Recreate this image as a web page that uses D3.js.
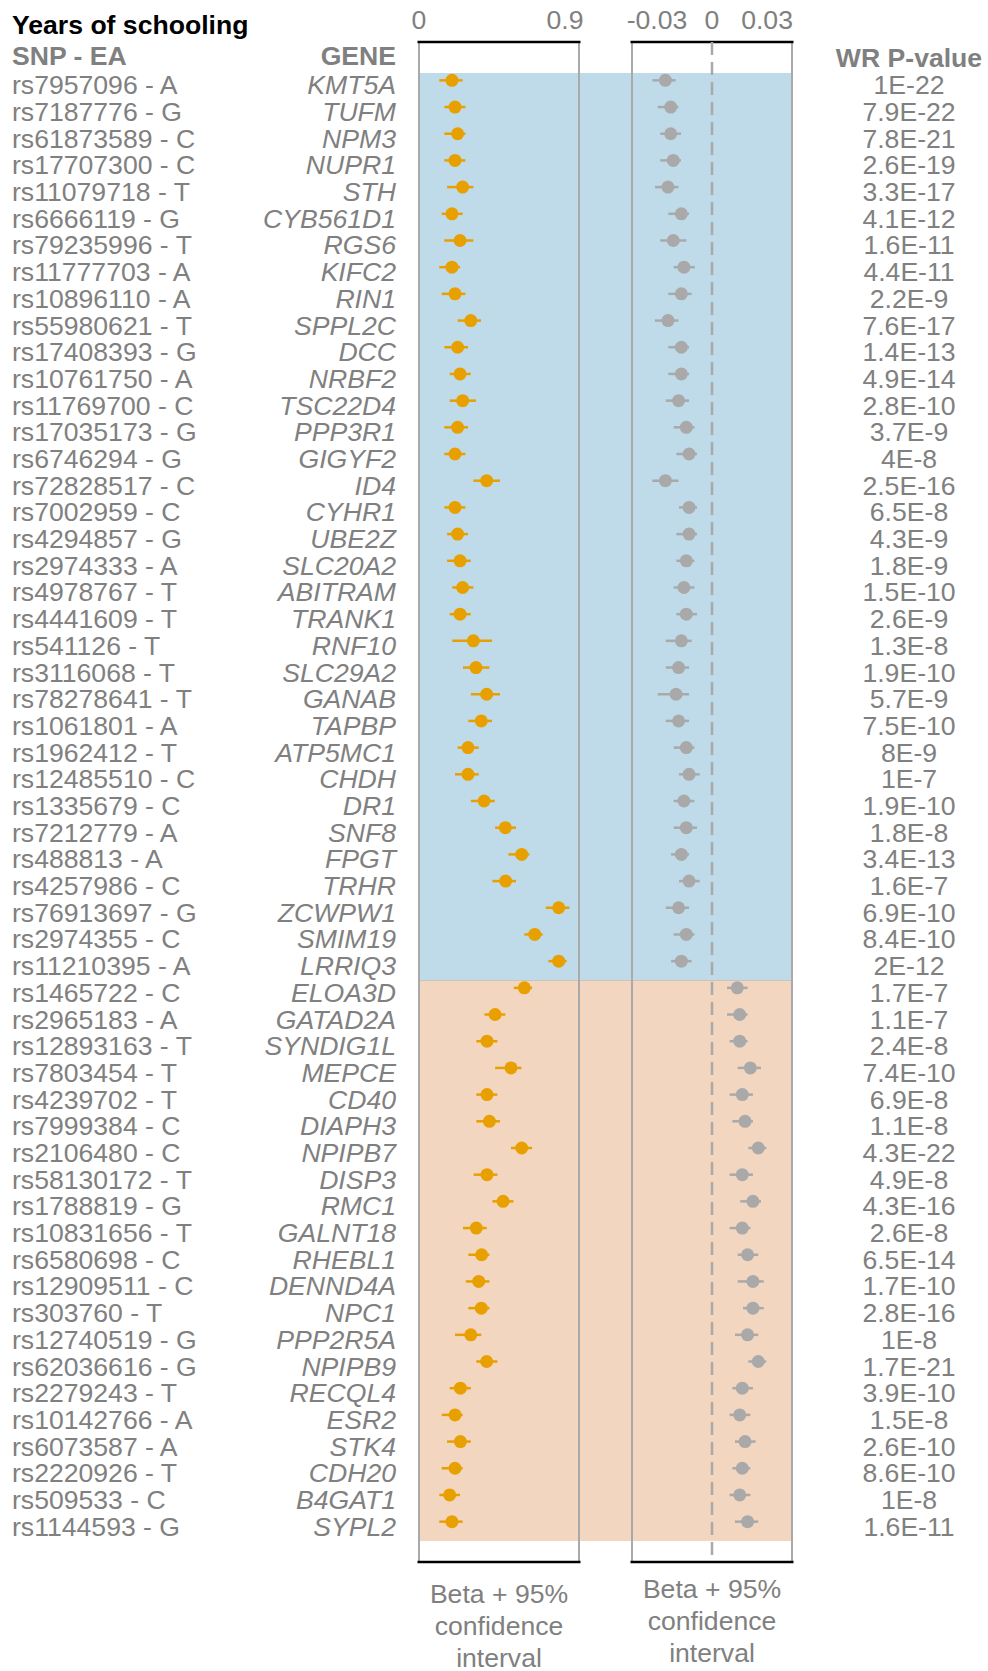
<!DOCTYPE html>
<html>
<head>
<meta charset="utf-8">
<script src="https://cdn.jsdelivr.net/npm/d3@7"></script>
<style>
  body { margin: 0; background: #fff; }
  text { font-family: "Liberation Sans", Arial, sans-serif; }
</style>
</head>
<body>
<div id="chart"></div>
<script>
// rows, top to bottom
let snps = ["rs7957096 - A","rs7187776 - G","rs61873589 - C","rs17707300 - C","rs11079718 - T","rs6666119 - G","rs79235996 - T","rs11777703 - A","rs10896110 - A","rs55980621 - T","rs17408393 - G","rs10761750 - A","rs11769700 - C","rs17035173 - G","rs6746294 - G","rs72828517 - C","rs7002959 - C","rs4294857 - G","rs2974333 - A","rs4978767 - T","rs4441609 - T","rs541126 - T","rs3116068 - T","rs78278641 - T","rs1061801 - A","rs1962412 - T","rs12485510 - C","rs1335679 - C","rs7212779 - A","rs488813 - A","rs4257986 - C","rs76913697 - G","rs2974355 - C","rs11210395 - A","rs1465722 - C","rs2965183 - A","rs12893163 - T","rs7803454 - T","rs4239702 - T","rs7999384 - C","rs2106480 - C","rs58130172 - T","rs1788819 - G","rs10831656 - T","rs6580698 - C","rs12909511 - C","rs303760 - T","rs12740519 - G","rs62036616 - G","rs2279243 - T","rs10142766 - A","rs6073587 - A","rs2220926 - T","rs509533 - C","rs1144593 - G"];
let genes = ["KMT5A","TUFM","NPM3","NUPR1","STH","CYB561D1","RGS6","KIFC2","RIN1","SPPL2C","DCC","NRBF2","TSC22D4","PPP3R1","GIGYF2","ID4","CYHR1","UBE2Z","SLC20A2","ABITRAM","TRANK1","RNF10","SLC29A2","GANAB","TAPBP","ATP5MC1","CHDH","DR1","SNF8","FPGT","TRHR","ZCWPW1","SMIM19","LRRIQ3","ELOA3D","GATAD2A","SYNDIG1L","MEPCE","CD40","DIAPH3","NPIPB7","DISP3","RMC1","GALNT18","RHEBL1","DENND4A","NPC1","PPP2R5A","NPIPB9","RECQL4","ESR2","STK4","CDH20","B4GAT1","SYPL2"];
let pvalues = ["1E-22","7.9E-22","7.8E-21","2.6E-19","3.3E-17","4.1E-12","1.6E-11","4.4E-11","2.2E-9","7.6E-17","1.4E-13","4.9E-14","2.8E-10","3.7E-9","4E-8","2.5E-16","6.5E-8","4.3E-9","1.8E-9","1.5E-10","2.6E-9","1.3E-8","1.9E-10","5.7E-9","7.5E-10","8E-9","1E-7","1.9E-10","1.8E-8","3.4E-13","1.6E-7","6.9E-10","8.4E-10","2E-12","1.7E-7","1.1E-7","2.4E-8","7.4E-10","6.9E-8","1.1E-8","4.3E-22","4.9E-8","4.3E-16","2.6E-8","6.5E-14","1.7E-10","2.8E-16","1E-8","1.7E-21","3.9E-10","1.5E-8","2.6E-10","8.6E-10","1E-8","1.6E-11"];
// group: "neg" = blue block, "pos" = orange block
let groups = snps.map((d, i) => i < 34 ? "neg" : "pos");

// left panel: beta and 95% CI
let beta1 = [0.203,0.222,0.238,0.222,0.269,0.203,0.253,0.203,0.222,0.319,0.238,0.253,0.269,0.238,0.222,0.417,0.222,0.238,0.253,0.269,0.253,0.335,0.351,0.417,0.384,0.302,0.302,0.401,0.532,0.633,0.534,0.861,0.713,0.861,0.649,0.469,0.419,0.567,0.419,0.434,0.633,0.419,0.518,0.353,0.386,0.368,0.384,0.319,0.417,0.255,0.222,0.255,0.222,0.189,0.203];
let lo1 = [0.125,0.156,0.156,0.156,0.173,0.140,0.156,0.125,0.140,0.238,0.156,0.189,0.189,0.156,0.156,0.335,0.156,0.173,0.173,0.205,0.189,0.205,0.271,0.320,0.304,0.238,0.222,0.320,0.469,0.551,0.452,0.781,0.649,0.797,0.584,0.403,0.353,0.469,0.353,0.353,0.567,0.337,0.452,0.271,0.304,0.288,0.304,0.222,0.353,0.189,0.140,0.173,0.140,0.125,0.125];
let hi1 = [0.269,0.286,0.286,0.286,0.335,0.269,0.335,0.253,0.286,0.382,0.302,0.319,0.351,0.302,0.286,0.499,0.286,0.302,0.319,0.335,0.319,0.450,0.434,0.499,0.450,0.368,0.368,0.467,0.598,0.680,0.598,0.927,0.762,0.910,0.697,0.532,0.483,0.631,0.483,0.499,0.697,0.483,0.582,0.417,0.434,0.434,0.434,0.384,0.483,0.319,0.269,0.319,0.269,0.253,0.269];

// right panel: beta and 95% CI
let beta2 = [-0.0254,-0.0225,-0.0225,-0.0211,-0.0240,-0.0167,-0.0211,-0.0153,-0.0167,-0.0240,-0.0167,-0.0167,-0.0182,-0.0140,-0.0125,-0.0254,-0.0125,-0.0125,-0.0140,-0.0153,-0.0140,-0.0167,-0.0182,-0.0196,-0.0182,-0.0140,-0.0125,-0.0153,-0.0140,-0.0167,-0.0125,-0.0182,-0.0140,-0.0167,0.0138,0.0151,0.0151,0.0209,0.0165,0.0180,0.0252,0.0165,0.0223,0.0165,0.0194,0.0223,0.0223,0.0194,0.0252,0.0165,0.0151,0.0180,0.0165,0.0151,0.0194];
let lo2 = [-0.0325,-0.0296,-0.0282,-0.0282,-0.0311,-0.0238,-0.0282,-0.0209,-0.0238,-0.0311,-0.0238,-0.0238,-0.0252,-0.0209,-0.0194,-0.0325,-0.0180,-0.0194,-0.0194,-0.0209,-0.0194,-0.0252,-0.0252,-0.0296,-0.0252,-0.0209,-0.0180,-0.0209,-0.0209,-0.0223,-0.0180,-0.0252,-0.0209,-0.0223,0.0082,0.0082,0.0096,0.0140,0.0096,0.0111,0.0198,0.0096,0.0154,0.0096,0.0140,0.0140,0.0169,0.0125,0.0198,0.0111,0.0096,0.0125,0.0111,0.0096,0.0125];
let hi2 = [-0.0198,-0.0183,-0.0169,-0.0169,-0.0183,-0.0125,-0.0140,-0.0094,-0.0111,-0.0183,-0.0125,-0.0125,-0.0125,-0.0096,-0.0082,-0.0183,-0.0082,-0.0082,-0.0096,-0.0096,-0.0082,-0.0111,-0.0125,-0.0125,-0.0125,-0.0096,-0.0067,-0.0096,-0.0082,-0.0125,-0.0067,-0.0125,-0.0096,-0.0111,0.0194,0.0194,0.0194,0.0267,0.0223,0.0223,0.0296,0.0223,0.0267,0.0209,0.0252,0.0282,0.0282,0.0252,0.0296,0.0223,0.0209,0.0238,0.0209,0.0209,0.0252];

let ticks1 = [0, 0.9];
let tickLabels1 = ["0", "0.9"];
let ticks2 = [-0.03, 0, 0.03];
let tickLabels2 = ["-0.03", "0", "0.03"];

let rows = snps.map((s, i) => ({
    snp: s, gene: genes[i], p: pvalues[i], group: groups[i],
    b1: beta1[i], l1: lo1[i], h1: hi1[i],
    b2: beta2[i], l2: lo2[i], h2: hi2[i]
}));

const width = 988, height = 1671;
const grey = "#808080";
const fs = "26.6px";
const bandColor = {neg: "#bfdbe9", pos: "#f3d6c0"};

let svg = d3.select("#chart").append("svg")
    .attr("width", width)
    .attr("height", height);

// scales
let y = d3.scaleBand().domain(d3.range(rows.length)).range([73, 1541]).padding(0);
let x1 = d3.scaleLinear().domain([0, 0.986]).range([419, 579]);
let x2 = d3.scaleLinear().domain([-0.0436, 0.0436]).range([632, 792]);
const frameTop = 42, frameBottom = 1562;
const dotShift = -6; // dots sit a bit above the row centre

// background bands (one block per group, across both panels)
let blocks = d3.groups(rows.map((d, i) => ({g: d.group, i: i})), d => d.g);
svg.selectAll(".block")
    .data(blocks)
    .enter().append("rect")
    .attr("class", "block")
    .attr("x", x1.range()[0])
    .attr("width", x2.range()[1] - x1.range()[0])
    .attr("y", d => y(d[1][0].i))
    .attr("height", d => y.bandwidth() * d[1].length)
    .style("fill", d => bandColor[d[0]]);

// thin divider between blocks
svg.append("line")
    .attr("x1", x1.range()[0]).attr("x2", x2.range()[1])
    .attr("y1", y(34)).attr("y2", y(34))
    .style("stroke", "#cbc4bb").style("stroke-width", 1);

// panel frames
[x1, x2].forEach(sc => {
    let r = sc.range();
    r.forEach(xx => {
        svg.append("line")
            .attr("x1", xx).attr("x2", xx)
            .attr("y1", frameTop).attr("y2", frameBottom)
            .style("stroke", "#a9a9a9").style("stroke-width", 2);
    });
    [frameTop, frameBottom].forEach(yy => {
        svg.append("line")
            .attr("x1", r[0] - 1.5).attr("x2", r[1] + 1.5)
            .attr("y1", yy).attr("y2", yy)
            .style("stroke", "#000").style("stroke-width", 2.5);
    });
});

// zero line in right panel
svg.append("line")
    .attr("x1", x2(0)).attr("x2", x2(0))
    .attr("y1", frameTop).attr("y2", frameBottom)
    .style("stroke", "#a9a9a9").style("stroke-width", 2.5)
    .style("stroke-dasharray", "13,7");

// tick labels above panels
function tickText(sc, vals, labels) {
    svg.selectAll(null)
        .data(vals)
        .enter().append("text")
        .attr("x", d => sc(d))
        .attr("y", 29)
        .attr("text-anchor", "middle")
        .style("font-size", fs)
        .style("fill", grey)
        .text((d, i) => labels[i]);
}
tickText(x1, ticks1, tickLabels1);
tickText(x2, ticks2, tickLabels2);

// headers
svg.append("text").attr("x", 12).attr("y", 34)
    .style("font-size", fs).style("font-weight", "bold").style("fill", "#000")
    .text("Years of schooling");
svg.append("text").attr("x", 12).attr("y", 65)
    .style("font-size", fs).style("font-weight", "bold").style("fill", grey)
    .text("SNP - EA");
svg.append("text").attr("x", 396).attr("y", 65).attr("text-anchor", "end")
    .style("font-size", fs).style("font-weight", "bold").style("fill", grey)
    .text("GENE");
svg.append("text").attr("x", 909).attr("y", 67).attr("text-anchor", "middle")
    .style("font-size", fs).style("font-weight", "bold").style("fill", grey)
    .text("WR P-value");

// row labels
let rowY = i => y(i) + y.bandwidth() / 2;
let labels = svg.selectAll(".rowlab")
    .data(rows)
    .enter().append("g")
    .attr("class", "rowlab")
    .attr("transform", (d, i) => `translate(0,${rowY(i) + 8})`)
    .style("font-size", fs)
    .style("fill", grey);
labels.append("text").attr("x", 12).text(d => d.snp);
labels.append("text").attr("x", 396).attr("text-anchor", "end")
    .style("font-style", "italic").text(d => d.gene);
labels.append("text").attr("x", 909).attr("text-anchor", "middle").text(d => d.p);

// forest marks
function drawPanel(sc, b, l, h, color) {
    let g = svg.append("g");
    g.selectAll("line")
        .data(rows)
        .enter().append("line")
        .attr("x1", d => sc(d[l])).attr("x2", d => sc(d[h]))
        .attr("y1", (d, i) => rowY(i) + dotShift).attr("y2", (d, i) => rowY(i) + dotShift)
        .style("stroke", color).style("stroke-width", 2.5);
    g.selectAll("circle")
        .data(rows)
        .enter().append("circle")
        .attr("cx", d => sc(d[b]))
        .attr("cy", (d, i) => rowY(i) + dotShift)
        .attr("r", 6.5)
        .style("fill", color);
}
drawPanel(x1, "b1", "l1", "h1", "#e8a000");
drawPanel(x2, "b2", "l2", "h2", "#a9a9a9");

// captions under panels
let captionLines = ["Beta + 95%", "confidence", "interval"];
[[x1, 1603], [x2, 1598]].forEach(([sc, y0]) => {
    let cx = (sc.range()[0] + sc.range()[1]) / 2;
    svg.selectAll(null)
        .data(captionLines)
        .enter().append("text")
        .attr("x", cx)
        .attr("y", (d, i) => y0 + i * 32)
        .attr("text-anchor", "middle")
        .style("font-size", fs)
        .style("fill", grey)
        .text(d => d);
});
</script>
</body>
</html>
